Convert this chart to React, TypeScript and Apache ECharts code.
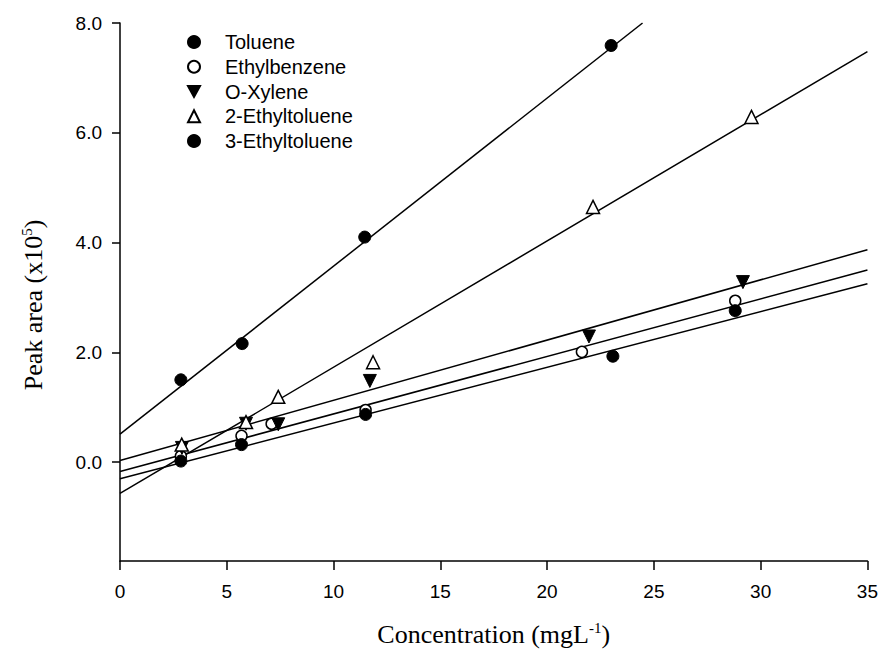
import React, { useEffect, useRef } from "react";
import * as echarts from "echarts";

const seriesNames = ["Toluene", "Ethylbenzene", "O-Xylene", "2-Ethyltoluene", "3-Ethyltoluene"];

const tolueneX = [2.85, 5.72, 11.46, 23.0];
const tolueneY = [1.5, 2.16, 4.1, 7.59];

const ethylbenzeneX = [2.85, 5.69, 7.1, 11.5, 21.63, 28.81];
const ethylbenzeneY = [0.11, 0.48, 0.7, 0.95, 2.01, 2.94];

const oXyleneX = [2.9, 5.9, 7.41, 11.7, 21.96, 29.17];
const oXyleneY = [0.26, 0.7, 0.69, 1.48, 2.29, 3.28];

const ethyl2X = [2.89, 5.9, 7.41, 11.85, 22.15, 29.57];
const ethyl2Y = [0.32, 0.73, 1.19, 1.82, 4.65, 6.29];

const ethyl3X = [2.85, 5.69, 11.5, 23.08, 28.81];
const ethyl3Y = [0.02, 0.32, 0.87, 1.93, 2.76];

// regression line end points [x, y]
const tolueneFit = [[0, 0.51], [24.47, 8.0]];
const ethylbenzeneFit = [[0, -0.17], [35, 3.5]];
const oXyleneFit = [[0, 0.03], [35, 3.87]];
const ethyl2Fit = [[0, -0.57], [35, 7.48]];
const ethyl3Fit = [[0, -0.3], [35, 3.25]];

const xTicks = [0, 5, 10, 15, 20, 25, 30, 35];
const yTicks = [0, 2, 4, 6, 8];

const zip = (xs: number[], ys: number[]) => xs.map((x, i) => [x, ys[i]]);

export default function App() {
  const ref = useRef<HTMLDivElement>(null);
  useEffect(() => {
    document.body.style.margin = "0";
    const chart = echarts.init(ref.current!, null, { renderer: "svg" });
    const sansFont = "'Liberation Sans', Arial, sans-serif";
    const serifFont = "'Liberation Serif', 'Times New Roman', serif";
    const filled = { color: "#000", borderColor: "#000", borderWidth: 1, opacity: 1 };
    const open = { color: "#fff", borderColor: "#000", borderWidth: 1.5, opacity: 1 };
    const downTriangle = "path://M0,0 L10,0 L5,9 Z";
    const markerSeries = (name: string, data: number[][], symbol: string, style: any, size: number) => ({
      name,
      type: "scatter",
      data,
      symbol,
      symbolSize: size,
      itemStyle: style,
      emphasis: { disabled: true },
      z: 5,
    });
    const fitSeries = (name: string, data: number[][]) => ({
      name: name + " fit",
      type: "line",
      data,
      showSymbol: false,
      symbol: "none",
      lineStyle: { color: "#000", width: 1.5 },
      z: 2,
      silent: true,
    });
    const titleRich = {
      a: { fontFamily: serifFont, fontSize: 26, color: "#000" },
      s: { fontFamily: serifFont, fontSize: 15, color: "#000", padding: [0, 0, 13, 0] },
    };
    chart.setOption({
      animation: false,
      backgroundColor: "#fff",
      grid: { left: 120, right: 13, top: 23, bottom: 93 },
      legend: {
        data: seriesNames,
        orient: "vertical",
        left: 182,
        top: 27,
        itemWidth: 12,
        itemHeight: 12,
        itemGap: 4.75,
        selectedMode: false,
        textStyle: { fontFamily: sansFont, fontSize: 20, color: "#000", padding: [0, 0, 0, 20], lineHeight: 20 },
      },
      xAxis: {
        type: "value",
        min: xTicks[0],
        max: xTicks[xTicks.length - 1],
        interval: 5,
        name: "{a|Concentration (mgL}{s|-1}{a|)}",
        nameLocation: "middle",
        nameGap: 59,
        nameTextStyle: { color: "#000", rich: titleRich },
        axisLine: { onZero: false, lineStyle: { color: "#000", width: 1.5 } },
        axisTick: { inside: false, length: 9, lineStyle: { color: "#000", width: 1.5 } },
        axisLabel: { fontFamily: sansFont, fontSize: 19, color: "#000", margin: 21 },
        splitLine: { show: false },
      },
      yAxis: {
        type: "value",
        min: -1.8,
        max: 8,
        name: "{a|Peak area (x10}{s|5}{a|)}",
        nameLocation: "middle",
        nameGap: 73,
        nameRotate: 90,
        nameTextStyle: { color: "#000", rich: titleRich, padding: [0, 26, 0, 0] },
        axisLine: { show: true, onZero: false, lineStyle: { color: "#000", width: 1.5 } },
        axisTick: { show: true, inside: false, length: 8, customValues: yTicks, lineStyle: { color: "#000", width: 1.5 } },
        axisLabel: {
          fontFamily: sansFont,
          fontSize: 19,
          color: "#000",
          margin: 18,
          customValues: yTicks,
          formatter: (v: number) => v.toFixed(1),
        },
        splitLine: { show: false },
      },
      series: [
        fitSeries("Toluene", tolueneFit),
        fitSeries("Ethylbenzene", ethylbenzeneFit),
        fitSeries("O-Xylene", oXyleneFit),
        fitSeries("2-Ethyltoluene", ethyl2Fit),
        fitSeries("3-Ethyltoluene", ethyl3Fit),
        markerSeries("Toluene", zip(tolueneX, tolueneY), "circle", filled, 12),
        markerSeries("Ethylbenzene", zip(ethylbenzeneX, ethylbenzeneY), "circle", open, 11),
        markerSeries("O-Xylene", zip(oXyleneX, oXyleneY), downTriangle, filled, 13),
        markerSeries("2-Ethyltoluene", zip(ethyl2X, ethyl2Y), "triangle", open, 13),
        markerSeries("3-Ethyltoluene", zip(ethyl3X, ethyl3Y), "circle", filled, 12),
      ],
    });
    return () => chart.dispose();
  }, []);
  return <div ref={ref} style={{ width: 881, height: 654 }} />;
}
